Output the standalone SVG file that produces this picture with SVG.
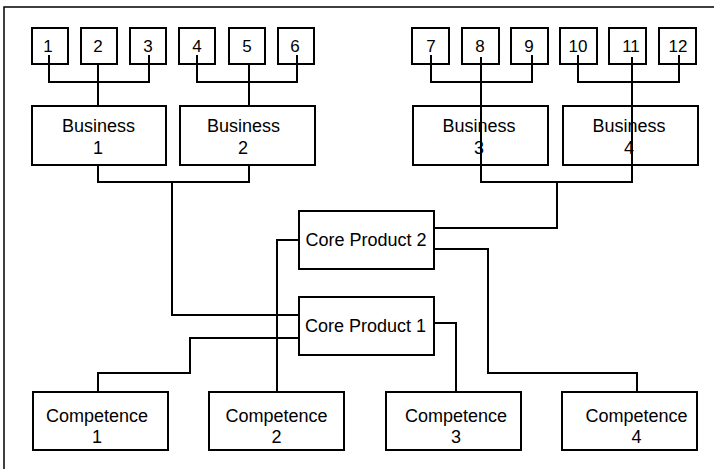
<svg xmlns="http://www.w3.org/2000/svg" width="714" height="469" viewBox="0 0 714 469">
<style>
  .box{fill:none;stroke:#000;stroke-width:2}
  .ln{fill:none;stroke:#000;stroke-width:2}
  text{font-family:"Liberation Sans",Arial,sans-serif;font-size:18px;fill:#000;text-anchor:middle}
  .num{font-size:17px}
</style>
<rect width="714" height="469" fill="#fff"/>
<path d="M4,469 V7 H714" fill="none" stroke="#000" stroke-width="1.5"/>
<g id="n1"><rect class="box" x="32" y="28" width="36" height="36"/><text class="num" x="48" y="52">1</text></g>
<g id="n2"><rect class="box" x="81" y="28" width="36" height="36"/><text class="num" x="98" y="52">2</text></g>
<g id="n3"><rect class="box" x="130" y="28" width="36" height="36"/><text class="num" x="148" y="52">3</text></g>
<g id="n4"><rect class="box" x="179" y="28" width="36" height="36"/><text class="num" x="197" y="52">4</text></g>
<g id="n5"><rect class="box" x="229" y="28" width="36" height="36"/><text class="num" x="247" y="52">5</text></g>
<g id="n6"><rect class="box" x="278" y="28" width="36" height="36"/><text class="num" x="295" y="52">6</text></g>
<g id="n7"><rect class="box" x="412" y="28" width="37" height="36"/><text class="num" x="431" y="52">7</text></g>
<g id="n8"><rect class="box" x="462" y="28" width="37" height="36"/><text class="num" x="480" y="52">8</text></g>
<g id="n9"><rect class="box" x="511" y="28" width="37" height="36"/><text class="num" x="529" y="52">9</text></g>
<g id="n10"><rect class="box" x="560" y="28" width="37" height="36"/><text class="num" x="578" y="52">10</text></g>
<g id="n11"><rect class="box" x="609" y="28" width="37" height="36"/><text class="num" x="631" y="52">11</text></g>
<g id="n12"><rect class="box" x="659" y="28" width="37" height="36"/><text class="num" x="678" y="52">12</text></g>
<g id="b1"><rect class="box" x="32" y="106" width="134" height="59"/><text x="98.5" y="132">Business</text><text x="98" y="154">1</text></g>
<g id="b2"><rect class="box" x="180" y="106" width="135" height="59"/><text x="243.5" y="132">Business</text><text x="243" y="154">2</text></g>
<g id="b3"><rect class="box" x="413" y="106" width="135" height="59"/><text x="479" y="132">Business</text><text x="479" y="154">3</text></g>
<g id="b4"><rect class="box" x="563" y="106" width="135" height="59"/><text x="629" y="132">Business</text><text x="629" y="154">4</text></g>
<g id="cp2"><rect class="box" x="299" y="211" width="135" height="58"/><text x="366" y="246">Core Product 2</text></g>
<g id="cp1"><rect class="box" x="299" y="297" width="135" height="58"/><text x="365.5" y="332">Core Product 1</text></g>
<g id="c1"><rect class="box" x="33" y="392" width="135" height="58"/><text x="97" y="421.5">Competence</text><text x="97" y="443">1</text></g>
<g id="c2"><rect class="box" x="209" y="392" width="135" height="58"/><text x="276.5" y="421.5">Competence</text><text x="276.5" y="443">2</text></g>
<g id="c3"><rect class="box" x="386" y="392" width="135" height="58"/><text x="456" y="421.5">Competence</text><text x="456" y="443">3</text></g>
<g id="c4"><rect class="box" x="562" y="392" width="135" height="58"/><text x="636.5" y="421.5">Competence</text><text x="636.5" y="443">4</text></g>
<g id="connectors" class="ln">
  <path class="ln" d="M49,55 V82 H149 V55"/>
  <path class="ln" d="M98,64 V106"/>
  <path class="ln" d="M197,55 V82 H297 V55"/>
  <path class="ln" d="M249,64 V106"/>
  <path class="ln" d="M431,55 V82 H532 V55"/>
  <path class="ln" d="M578,55 V82 H679 V55"/>
  <path class="ln" d="M481,57 V182 H632 V57"/>
  <path class="ln" d="M98,165 V182 H249 V165"/>
  <path class="ln" d="M172,182 V315 H299"/>
  <path class="ln" d="M557,182 V228 H434"/>
  <path class="ln" d="M299,240 H277 V392"/>
  <path class="ln" d="M434,249 H488 V373 H637 V392"/>
  <path class="ln" d="M434,323 H456 V392"/>
  <path class="ln" d="M299,338 H190 V373 H98 V392"/>
</g>
</svg>
